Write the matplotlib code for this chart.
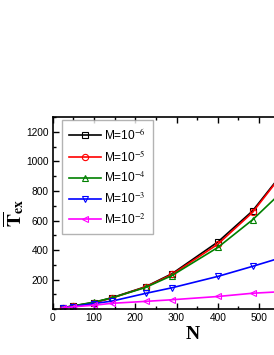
import matplotlib
matplotlib.use("Agg")
import matplotlib.pyplot as plt
from matplotlib.ticker import MultipleLocator

plt.rcParams["font.family"] = ["Liberation Sans", "DejaVu Sans"]
plt.rcParams["mathtext.fontset"] = "stix"

# ── Data ──────────────────────────────────────────────────────────────────────
N = [25, 49, 100, 144, 225, 289, 400, 484, 576]

t_m6 = [10, 22, 45, 78, 152, 240, 455, 665, 990]
t_m5 = [10, 21, 44, 76, 150, 235, 440, 655, 985]
t_m4 = [10, 22, 48, 77, 147, 228, 418, 605, 850]
t_m3 = [9, 18, 38, 55, 107, 145, 222, 290, 368]
t_m2 = [9, 16, 27, 40, 53, 64, 86, 108, 122]

labels = [r"M=10$^{-6}$", r"M=10$^{-5}$", r"M=10$^{-4}$",
          r"M=10$^{-3}$", r"M=10$^{-2}$"]
series = [t_m6, t_m5, t_m4, t_m3, t_m2]
colors = ["black", "red", "#008000", "blue", "magenta"]
markers = ["s", "o", "^", "v", "<"]

fig = plt.figure(figsize=(2.74, 3.55), dpi=100)
# axes runs off the right edge of the figure, as in the reference crop
ax = fig.add_axes([0.192, 0.129, 1.025, 0.541])

for y, lab, c, m in zip(series, labels, colors, markers):
    ax.plot(N, y, color=c, marker=m, markerfacecolor="none",
            markeredgecolor=c, markersize=4.5, markeredgewidth=0.8,
            linewidth=1.2, label=lab)

ax.set_xlim(0, 680)
ax.set_ylim(0, 1300)
ax.set_xticks([0, 100, 200, 300, 400, 500])   # 600 falls outside the crop
ax.xaxis.set_minor_locator(MultipleLocator(50))
ax.set_yticks([200, 400, 600, 800, 1000, 1200])
ax.yaxis.set_minor_locator(MultipleLocator(100))
ax.tick_params(which="both", direction="in", top=True, right=True,
               labelsize=7.3, width=1.0, pad=3)
ax.tick_params(which="major", length=4)
ax.tick_params(which="minor", length=2)
for sp in ax.spines.values():
    sp.set_linewidth(1.2)

ax.set_xlabel("N", fontsize=14, fontweight="bold", family="Liberation Serif",
              labelpad=2)
ax.set_ylabel(r"$\overline{\mathbf{T}}_{\mathbf{ex}}$", fontsize=14, labelpad=0)

leg = ax.legend(loc="upper left", bbox_to_anchor=(0.033, 0.984), fontsize=8.6,
                frameon=True, fancybox=False, edgecolor="#a0a0a0",
                handlelength=2.7, borderpad=0.6, labelspacing=0.55,
                handletextpad=0.2, borderaxespad=0)
leg.get_frame().set_linewidth(1.0)

fig.savefig("out.png", dpi=100)
